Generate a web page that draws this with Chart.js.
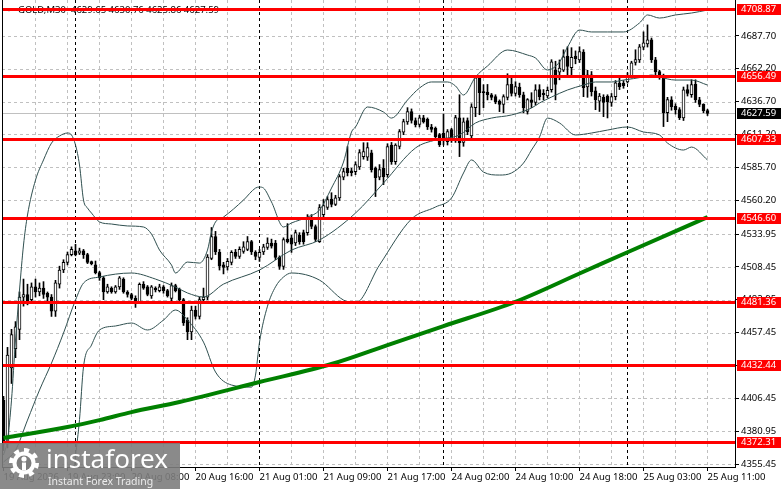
<!DOCTYPE html>
<html><head><meta charset="utf-8">
<script src="https://cdn.jsdelivr.net/npm/chart.js@4.4.1/dist/chart.umd.min.js"></script>
<style>html,body{margin:0;padding:0;background:#fff;overflow:hidden}#wrap{width:781px;height:489px;position:relative}</style>
</head><body><div id="wrap"><canvas id="c"></canvas></div>
<script>
// ---------- data ----------
const symbolTitle = 'GOLD,M30';
const lastBar = [4629.65, 4630.76, 4625.86, 4627.59];
const timeLabels = ['19 Aug 2026','19 Aug 23:00','20 Aug 08:00','20 Aug 16:00','21 Aug 01:00','21 Aug 09:00','21 Aug 17:00','24 Aug 02:00','24 Aug 10:00','24 Aug 18:00','25 Aug 03:00','25 Aug 11:00'];
const timeLabelBars = [0,16,32,48,64,80,96,112,128,144,160,176];
const daySeparatorBars = [18,64,110,156];
const priceTicks = [4687.70,4662.20,4636.70,4611.20,4585.70,4560.20,4533.95,4508.45,4482.95,4457.45,4431.95,4406.45,4380.95,4355.45];
const levelLines = [4708.87,4656.49,4607.33,4546.60,4481.36,4432.44,4372.31];
const currentPrice = 4627.59;

const opens = [4405,4371,4430,4445,4460,4485,4487,4483,4493,4489,
4492,4488,4485,4474,4495,4506,4512,4518,4521,4519,
4521,4518,4512.5,4510,4504,4500,4489,4492,4489,4493,
4499,4489,4487,4484,4481,4495,4493,4486,4492,4490,
4493,4490,4484,4494,4491,4483,4467,4458,4475,4470,
4483,4485,4515,4532,4520,4510,4508.5,4512,4520,4516.5,
4520.5,4522,4528,4520,4515.8,4520,4523.5,4527,4527,4515.8,
4508.8,4530,4531,4527,4533,4535,4535,4546.8,4539.8,4528,
4549,4554.5,4561,4557,4562,4578,4585,4583,4582.4,4586,
4594,4593.5,4597,4585,4578,4585,4580,4603,4590,4602,
4613,4621,4629,4622,4619,4624,4623,4617,4616,4611,
4612,4605.6,4615,4607,4624,4605,4622,4610,4632,4655,
4644.5,4644,4642,4640.5,4637,4634.5,4640,4650,4643,4648,
4642,4629,4638,4636,4646,4643,4641,4645.9,4661,4659.6,
4661,4672,4663,4672,4669,4675,4648,4657.5,4645,4637,
4640,4641,4636,4640.5,4651,4651,4652,4656,4667,4669,
4679,4681.5,4684.6,4669,4660,4656,4628,4638,4633,4630.4,
4624,4646,4642,4650,4638,4634.5,4629.65];
const highs = [4408,4446,4460,4466,4489,4499,4495,4496,4499,4496,
4497,4489,4487,4498,4509,4514,4520,4524,4526,4523,
4522,4519,4513,4513,4505,4501,4495,4493,4494,4501,
4500,4490,4488,4486,4496,4497,4494,4494,4493,4495,
4494,4491,4496,4495,4492,4484,4469,4478,4478,4485,
4492,4518,4539,4536,4522,4512,4515,4521,4522,4524,
4528,4532,4529,4521,4522,4526,4531,4530,4529,4517,
4531,4542,4533,4537,4535,4537,4549,4549,4541,4556.8,
4560.7,4563,4566,4564,4580,4585,4601.8,4585,4590,4599.4,
4604.8,4604.8,4599,4586,4587.8,4591.7,4604,4605,4604,4615,
4623,4632,4631,4624,4626,4626,4624,4619,4617,4612,
4627,4615,4616,4626,4642,4624,4624,4635,4656.7,4657,
4649.8,4650,4643,4642,4638,4642,4658.3,4655,4652.1,4651,
4644,4639,4643.6,4649.8,4649.8,4646,4648,4669.2,4668,4669,
4676.9,4679.2,4678.5,4676,4679.2,4677,4661,4660,4648,4643,
4642,4642,4643,4653,4655,4653,4659,4668,4676.9,4681,
4690.8,4696.2,4686,4671,4661,4658,4640,4640.5,4635,4632,
4648,4649.8,4653.6,4653.6,4640,4635,4630.76];
const lows = [4366,4368,4418,4438,4452,4478,4479,4480,4485,4486,
4484,4482,4470,4470,4492,4504,4510,4517,4517,4518,
4515,4511,4510,4503,4498,4483,4488,4488,4488,4491,
4488,4485,4483,4477,4480,4491,4486,4484,4489,4489,
4488,4485,4482,4489,4481,4463,4452,4452,4468,4468,
4480,4483,4514,4518,4506,4503,4506,4510,4515,4515,
4519,4521,4518,4514,4512.7,4518,4522,4523,4514,4506.5,
4506.5,4527,4519.7,4525,4526,4526,4533,4538,4528,4527.4,
4547,4553,4555,4556,4560,4576,4579,4579,4580,4584,
4592,4591,4582,4563,4576,4572.3,4578,4588,4588,4600,
4611,4619,4620,4617,4617,4620,4615,4613,4608,4601.8,
4603,4603,4605,4605,4594,4602,4611,4607,4625,4626.5,
4632,4638,4638,4635,4628.9,4628,4638,4641,4641,4640,
4628,4627,4632,4634,4638,4638,4639.7,4644,4638,4653.6,
4660,4656,4656,4666,4667,4640.5,4640,4641,4630.4,4629,
4625,4624,4633,4638,4646,4647,4651,4655,4665,4667,
4677,4679,4667,4657,4654,4617.3,4621.1,4630,4627,4622.7,
4622,4641,4640,4636,4632.7,4628,4625.86];
const closes = [4371,4440,4456,4462,4485,4487,4482,4493,4489,4492,
4487,4485,4474,4496,4506,4512,4518,4522,4518,4521,
4518,4512,4511,4504,4500,4489,4493,4489,4493,4500,
4489,4487,4484,4481,4495,4492,4487,4493,4490.5,4493,
4490,4486,4494,4490,4483,4465,4458,4475,4470,4483,
4485,4516,4532,4520,4509,4508,4512.7,4519.7,4516.5,4522,
4524,4528,4520,4516.5,4519.7,4524,4527,4524.5,4515.8,4508.8,
4529.7,4528,4526,4535,4528,4528,4546.8,4539.8,4529.7,4554.5,
4556,4560.7,4557,4562,4578.5,4582.4,4581.6,4581.5,4587.8,4597.1,
4597.9,4601,4583.9,4577.7,4584,4578.5,4601.8,4590,4603,4613.4,
4621.1,4628.9,4622,4618.8,4624,4621,4617,4615,4609.5,4603.3,
4607,4613.4,4607,4624.2,4604.8,4621,4613.4,4632.7,4655.2,4643.6,
4643.6,4642,4640,4636.6,4634.5,4640.5,4649.8,4643,4648.3,4642,
4632,4638.2,4636,4645.9,4640.5,4642,4645.5,4667.6,4650,4662.6,
4671.5,4664,4671,4670,4675.4,4647.4,4657.5,4644.3,4638.2,4641,
4636,4636.5,4640.5,4651.3,4648.3,4649,4656,4666.8,4669.2,4679.2,
4682.3,4684.6,4669.2,4659.9,4656,4628.1,4638.2,4632.7,4630.4,4624.2,
4645.9,4643,4649.8,4638.2,4634.5,4629.7,4627.59];

const maBars = [0,16,24,32,44,64,82,96,110,128,144,156,176];
const maValues = [4375.7,4384.2,4389.6,4395.8,4403.6,4419.1,4433.1,4447.8,4462.5,4481.4,4503.3,4519.8,4547.1];

const bbUpperBars = [0,1,2,3,4,5,6,8,10,12,14,16,17,18,19,20,21,22,24,27,31,35,37,39,42,43,46,49,51,52,53,55,60,63,64,65,67,70,72,76,79,82,85,87,88,91,95,97,101,104,107,111,113,115,118,121,126,131,133,136,139,141,144,147,151,155,159,161,164,168,172,176];
const bbUpperValues = [4362.5,4374.1,4405.1,4451.7,4490.5,4525.4,4548.7,4575.8,4591.4,4604.5,4610.0,4612.3,4610.8,4603.0,4587.5,4560.3,4554.1,4550.2,4543.3,4541.7,4540.2,4539.4,4533.9,4521.5,4509.9,4503.7,4512.2,4511.4,4521.5,4535.5,4543.3,4547.1,4560.3,4569.6,4570.4,4569.6,4558.8,4539.4,4542.5,4547.1,4552.6,4569.6,4589.8,4613.1,4617.0,4632.5,4628.6,4623.9,4637.9,4647.2,4651.9,4651.9,4648.8,4641.8,4655.8,4664.3,4676.7,4672.8,4670.5,4661.2,4667.4,4679.0,4692.2,4690.7,4690.7,4690.7,4697.7,4703.9,4701.5,4703.9,4705.4,4707.7];

const bbMiddleBars = [0,3,6,9,12,15,18,20,24,32,38,43,46,50,55,64,72,79,88,95,103,108,114,118,122,127,132,134,137,141,145,148,152,155,160,162,164,168,172,176];
const bbMiddleValues = [4357.0,4366.3,4389.6,4412.9,4433.8,4457.1,4482.7,4495.9,4500.6,4503.7,4499.0,4492.8,4488.2,4485.1,4495.1,4506.0,4521.5,4529.3,4550.2,4573.5,4600.7,4606.9,4610.8,4620.1,4623.9,4626.3,4631.7,4635.6,4640.2,4645.7,4649.5,4651.9,4651.9,4653.4,4655.8,4657.3,4655.8,4653.4,4653.4,4649.5];

const bbLowerBars = [0,3,6,10,14,16,17,18,19,20,22,24,28,32,36,40,43,46,50,53,57,62,63,64,66,68,70,72,79,85,88,94,102,108,112,115,117,120,124,127,130,132,134,136,139,143,147,151,156,160,164,166,170,172,176];
const bbLowerValues = [4351.5,4280,4230,4250,4288,4320,4337,4362,4390,4431,4447.8,4459.5,4462.6,4464.9,4459.5,4467.2,4475.0,4467.2,4450.1,4426.9,4416.8,4415.2,4424.5,4450,4478,4493,4500.6,4503.7,4498.2,4482.7,4480.4,4509.9,4545.6,4554.9,4561.9,4581.3,4591.4,4582.0,4579.7,4581.3,4589.0,4599.1,4609.2,4623.9,4620.1,4610.8,4612.3,4614.6,4617.0,4613.1,4610.8,4604.5,4599.1,4601.4,4591.4];

// ---------- view settings ----------
const X_MIN = -0.375, X_MAX = 182.875;
const Y_MIN = 4353.2, Y_MAX = 4715.5;
const FONT = '"Noto Sans", "DejaVu Sans", sans-serif';
const FONT_SIZE = 9.5;

const toXY = (bars, vals) => bars.map((b, k) => ({x: b, y: vals[k]}));
const bodyData = opens.map((o, i) => ({x: i, y: [o, closes[i]]}));
const wickData = opens.map((o, i) => ({x: i, y: [lows[i], highs[i]]}));

function hLine(ctx, x1, x2, y) { ctx.beginPath(); ctx.moveTo(x1, y); ctx.lineTo(x2, y); ctx.stroke(); }
function vLine(ctx, x, y1, y2) { ctx.beginPath(); ctx.moveTo(x, y1); ctx.lineTo(x, y2); ctx.stroke(); }

function drawGear(ctx, cx, cy, rOut, rIn, teeth) {
  ctx.beginPath();
  const n = teeth * 2;
  for (let k = 0; k < n; k++) {
    const a0 = k / n * Math.PI * 2 - Math.PI / 2;
    const a1 = (k + 1) / n * Math.PI * 2 - Math.PI / 2;
    ctx.arc(cx, cy, k % 2 === 0 ? rOut : rIn, a0, a1);
  }
  ctx.closePath();
  ctx.fill();
}

const mt4Plugin = {
  id: 'mt4',
  beforeDatasetsDraw(chart) {
    const {ctx, chartArea: a, scales: {x, y}} = chart;
    ctx.save();
    ctx.beginPath(); ctx.rect(a.left, a.top, a.right - a.left, a.bottom - a.top); ctx.clip();
    ctx.lineWidth = 1;
    ctx.setLineDash([3, 3]);
    ctx.strokeStyle = '#c0c0c0';
    priceTicks.forEach(v => hLine(ctx, a.left, a.right, Math.round(y.getPixelForValue(v)) + 0.5));
    for (let b = 8; b <= opens.length - 1; b += 8) {
      if (daySeparatorBars.includes(b)) continue;
      vLine(ctx, Math.floor(x.getPixelForValue(b)) + 0.5, a.top, a.bottom);
    }
    ctx.strokeStyle = '#000';
    daySeparatorBars.forEach(b => vLine(ctx, Math.floor(x.getPixelForValue(b)) + 0.5, a.top, a.bottom));
    ctx.setLineDash([]);
    ctx.strokeStyle = '#c0c0c0';
    hLine(ctx, a.left, a.right, Math.round(y.getPixelForValue(currentPrice)) + 0.5);
    ctx.restore();

    // header
    ctx.save();
    ctx.fillStyle = '#000';
    ctx.beginPath(); ctx.moveTo(6, 8); ctx.lineTo(12, 8); ctx.lineTo(9, 11.5); ctx.closePath(); ctx.fill();
    ctx.font = FONT_SIZE + 'px ' + FONT;
    ctx.textBaseline = 'middle';
    ctx.fillText(symbolTitle, 18, 10);
    ctx.fillText(lastBar.map(v => v.toFixed(2)).join(' '), 71, 10);
    ctx.restore();
  },
  afterDatasetsDraw(chart) {
    const {ctx, chartArea: a, scales: {y}} = chart;
    ctx.save();
    ctx.strokeStyle = '#ff0000';
    ctx.lineWidth = 3;
    levelLines.forEach(v => hLine(ctx, a.left, a.right, Math.round(y.getPixelForValue(v)) + 0.5));
    ctx.restore();
  },
  afterDraw(chart) {
    const {ctx, chartArea: a, scales: {y}, width} = chart;
    ctx.save();
    // left frame line
    ctx.strokeStyle = '#000'; ctx.lineWidth = 1;
    vLine(ctx, a.left + 0.5, a.top, a.bottom);
    // price boxes on axis
    ctx.font = FONT_SIZE + 'px ' + FONT;
    ctx.textBaseline = 'middle';
    const box = (v, bg) => {
      const py = Math.round(y.getPixelForValue(v));
      ctx.fillStyle = bg;
      ctx.fillRect(a.right + 2, py - 5, width - a.right - 2, 11);
      ctx.fillStyle = '#fff';
      ctx.fillText(v.toFixed(2), a.right + 6, py + 0.5);
    };
    levelLines.forEach(v => box(v, '#ff0000'));
    box(currentPrice, '#000');
    // logo
    ctx.fillStyle = 'rgba(125,125,125,0.9)';
    ctx.fillRect(0, 443, 180, 46);
    ctx.fillStyle = '#ffffff';
    drawGear(ctx, 24, 463, 15, 11.5, 8);
    ctx.fillStyle = 'rgb(125,125,125)';
    ctx.beginPath(); ctx.arc(24, 463, 7.5, 0, Math.PI * 2); ctx.fill();
    ctx.fillStyle = '#ffffff';
    ctx.beginPath(); ctx.arc(24, 459, 2.6, 0, Math.PI * 2); ctx.fill();
    ctx.fillRect(22, 462.5, 4, 8);
    ctx.font = '26px ' + FONT;
    ctx.textBaseline = 'alphabetic';
    ctx.fillText('instaforex', 46, 468);
    ctx.fillStyle = '#ececec';
    ctx.font = '10.5px ' + FONT;
    ctx.fillText('Instant Forex Trading', 48, 485);
    ctx.restore();
  }
};

new Chart(document.getElementById('c'), {
  type: 'bar',
  data: {
    datasets: [
      {type: 'line', label: 'MA', data: toXY(maBars, maValues), borderColor: '#008000', borderWidth: 4, pointRadius: 0, cubicInterpolationMode: 'monotone', order: 0},
      {type: 'line', label: 'BB upper', data: toXY(bbUpperBars, bbUpperValues), borderColor: '#2f4f4f', borderWidth: 1, pointRadius: 0, cubicInterpolationMode: 'monotone', order: 1},
      {type: 'line', label: 'BB middle', data: toXY(bbMiddleBars, bbMiddleValues), borderColor: '#2f4f4f', borderWidth: 1, pointRadius: 0, cubicInterpolationMode: 'monotone', order: 1},
      {type: 'line', label: 'BB lower', data: toXY(bbLowerBars, bbLowerValues), borderColor: '#2f4f4f', borderWidth: 1, pointRadius: 0, cubicInterpolationMode: 'monotone', order: 1},
      {type: 'bar', label: 'Bodies', data: bodyData,
        backgroundColor: c => (c.raw && c.raw.y[1] >= c.raw.y[0]) ? '#ffffff' : '#000000',
        borderColor: '#000', borderWidth: 1, borderSkipped: false, barThickness: 3, minBarLength: 1, grouped: false, order: 2},
      {type: 'bar', label: 'Wicks', data: wickData, backgroundColor: '#000', borderWidth: 0, barThickness: 1, grouped: false, order: 3}
    ]
  },
  options: {
    responsive: true, maintainAspectRatio: false, animation: false,
    layout: {padding: {left: 2, right: 0, top: 0, bottom: 0}},
    plugins: {legend: {display: false}, tooltip: {enabled: false}},
    scales: {
      x: {
        type: 'linear', min: X_MIN, max: X_MAX, offset: false,
        afterBuildTicks: s => { s.ticks = timeLabelBars.map(v => ({value: v})); },
        afterFit: s => { s.height = 22; s.paddingLeft = 0; s.paddingRight = 0; },
        ticks: {autoSkip: false, maxRotation: 0, minRotation: 0, align: 'start', padding: 1, color: '#000',
          font: {family: FONT, size: FONT_SIZE}, callback: v => timeLabels[timeLabelBars.indexOf(v)]},
        grid: {display: true, drawOnChartArea: false, drawTicks: true, tickLength: 4, tickColor: '#000', offset: false},
        border: {display: true, color: '#000', width: 1}
      },
      y: {
        type: 'linear', position: 'right', min: Y_MIN, max: Y_MAX,
        afterBuildTicks: s => { s.ticks = priceTicks.map(v => ({value: v})); },
        afterFit: s => { s.width = 46; s.paddingTop = 0; s.paddingBottom = 0; },
        ticks: {autoSkip: false, padding: 2, color: '#000', font: {family: FONT, size: FONT_SIZE}, callback: v => v.toFixed(2)},
        grid: {display: true, drawOnChartArea: false, drawTicks: true, tickLength: 4, tickColor: '#000'},
        border: {display: true, color: '#000', width: 1}
      }
    }
  },
  plugins: [mt4Plugin]
});
</script>
</body></html>
